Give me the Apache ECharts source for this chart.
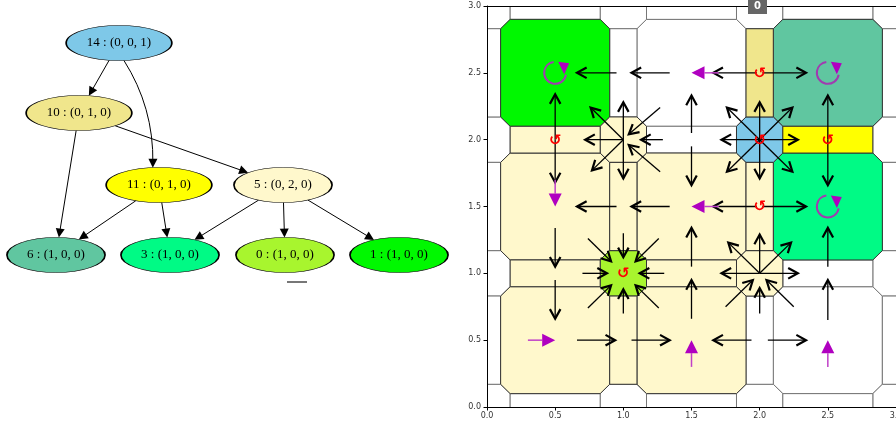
<!DOCTYPE html>
<html>
<head>
<meta charset="utf-8">
<script src="https://cdn.jsdelivr.net/npm/echarts@6/dist/echarts.min.js"></script>
<style>
  html, body { margin: 0; padding: 0; background: #fff; }
  #main { width: 896px; height: 426px; }
</style>
</head>
<body>
<div id="main"></div>
<script>
// ---- left: abstraction graph ----
const nodeIds = [14, 10, 11, 5, 6, 3, 0, 1]
const nodeStates = ['(0, 0, 1)', '(0, 1, 0)', '(0, 1, 0)', '(0, 2, 0)', '(1, 0, 0)', '(1, 0, 0)', '(1, 0, 0)', '(1, 0, 0)']
const nodeColors = ['#7ec8e8', '#f0e68c', '#ffff00', '#fff8cc', '#60c6a0', '#00fa85', '#a8f52e', '#00f800']
// graphviz layout (points, y down)
const nodeX = [119, 79, 159, 283, 56, 170, 285, 399]
const nodeY = [43, 113, 185, 185, 255, 255, 255, 255]
const edges = [[14, 10], [14, 11], [10, 6], [10, 5], [11, 6], [11, 3], [5, 3], [5, 0], [5, 1]]
const edgeBend = [0, 0.15, 0, 0, 0, 0, 0, 0, 0]

// ---- right: partition of the state space ----
const cellCenters = [0.5, 1.5, 2.5]
const latticePts = [0, 1, 2, 3]
// coloured regions and the graph node they belong to
const regionCenters = [[0.5, 2.5], [2.5, 2.5], [0.5, 1.5], [1.5, 1.5], [2.5, 1.5], [0.5, 0.5], [1.5, 0.5],
  [0.5, 2], [2, 2.5], [2.5, 2], [1, 1.5], [2, 1.5], [0.5, 1], [1.5, 1], [1, 0.5],
  [1, 2], [2, 2], [1, 1], [2, 1]]
const regionNodes = [1, 6, 5, 5, 3, 5, 5, 5, 10, 11, 5, 5, 5, 5, 5, 5, 14, 0, 5]

// transitions [x0, y0, x1, y1]
const blackArrows = [
  [0.95, 2.5, 0.66, 2.5], [1.34, 2.5, 1.06, 2.5], [1.98, 2.5, 1.66, 2.5], [2.02, 2.5, 2.34, 2.5],
  [0.95, 1.5, 0.66, 1.5], [1.34, 1.5, 1.06, 1.5], [1.98, 1.5, 1.66, 1.5], [2.02, 1.5, 2.34, 1.5],
  [0.66, 0.5, 0.94, 0.5], [1.06, 0.5, 1.34, 0.5], [1.94, 0.5, 1.66, 0.5], [2.06, 0.5, 2.34, 0.5],
  [0.5, 2.0, 0.5, 2.34], [0.5, 2.0, 0.5, 1.68], [0.5, 1.34, 0.5, 1.05], [0.5, 0.95, 0.5, 0.66],
  [1.5, 2.05, 1.5, 2.33], [1.5, 1.95, 1.5, 1.66], [1.5, 1.05, 1.5, 1.34], [1.5, 0.66, 1.5, 0.95],
  [2.5, 2.0, 2.5, 2.33], [2.5, 2.0, 2.5, 1.66], [2.5, 1.05, 2.5, 1.34], [2.5, 0.65, 2.5, 0.95],
  [1, 2, 1, 2.28], [1, 2, 0.76, 2.24], [1, 2, 0.72, 2], [1, 2, 0.77, 1.77], [1, 2, 1, 1.71],
  [1.27, 2.24, 1.04, 2.04], [1.29, 2, 1.13, 2], [1.27, 1.76, 1.04, 1.96],
  [2, 2, 2, 2.28], [2, 2, 1.76, 2.24], [2, 2, 2.24, 2.24], [2, 2, 1.72, 2], [2, 2, 2.28, 2],
  [2, 2, 1.76, 1.76], [2, 2, 2, 1.71], [2, 2, 2.24, 1.76],
  [1, 1.3, 1, 1.12], [1, 0.7, 1, 0.88], [0.7, 1, 0.88, 1], [1.3, 1, 1.12, 1],
  [0.74, 1.26, 0.91, 1.09], [1.26, 1.26, 1.09, 1.09], [0.74, 0.74, 0.91, 0.91], [1.26, 0.74, 1.09, 0.91],
  [2, 1, 2, 1.29], [2, 1, 1.77, 1.23], [2, 1, 2.23, 1.23], [2, 1, 1.72, 1], [2, 1, 2.28, 1],
  [2, 0.7, 2, 0.89], [1.75, 0.75, 1.95, 0.95], [2.25, 0.75, 2.05, 0.95]
]
// chosen actions
const policyArrows = [[0.5, 1.7, 0.5, 1.5], [1.7, 2.5, 1.5, 2.5], [1.7, 1.5, 1.5, 1.5],
  [0.3, 0.5, 0.5, 0.5], [1.5, 0.3, 1.5, 0.5], [2.5, 0.3, 2.5, 0.5]]
const policyLoops = [[0.5, 2.5], [2.5, 2.5], [2.5, 1.5]]
const selfLoops = [[0.5, 2], [2, 2.5], [2, 2], [2.5, 2], [2, 1.5], [1, 1]]

const tickLabels = ['0.0', '0.5', '1.0', '1.5', '2.0', '2.5', '3.0']

// build the tessellation: cells, doors, junctions
function octagon(cx, cy, hx, hy, c) {
  return [[cx - hx + c, cy - hy], [cx + hx - c, cy - hy], [cx + hx, cy - hy + c], [cx + hx, cy + hy - c],
    [cx + hx - c, cy + hy], [cx - hx + c, cy + hy], [cx - hx, cy + hy - c], [cx - hx, cy - hy + c]]
}
const regions = []
cellCenters.forEach(x => cellCenters.forEach(y => regions.push({ c: [x, y], poly: octagon(x, y, 0.4, 0.4, 0.07) })))
latticePts.forEach(x => latticePts.forEach(y => regions.push({ c: [x, y], poly: octagon(x, y, 0.17, 0.17, 0.07) })))
cellCenters.forEach(x => latticePts.forEach(y => regions.push({ c: [x, y], poly: octagon(x, y, 0.33, 0.1, 0) })))
latticePts.forEach(x => cellCenters.forEach(y => regions.push({ c: [x, y], poly: octagon(x, y, 0.1, 0.33, 0) })))
regions.forEach(r => {
  const k = regionCenters.findIndex(p => p[0] === r.c[0] && p[1] === r.c[1])
  r.fill = k < 0 ? null : nodeColors[nodeIds.indexOf(regionNodes[k])]
})
regions.sort((a, b) => (a.fill ? 1 : 0) - (b.fill ? 1 : 0))

// graph geometry
const nodeW = nodeIds.map((id, i) => (id + ' : ' + nodeStates[i]).length * 7.55)
const nodeH = 35
function ellipseCut(i, j) {
  const dx = nodeX[j] - nodeX[i], dy = nodeY[j] - nodeY[i]
  const t = 1 / Math.sqrt((dx / (nodeW[i] / 2)) ** 2 + (dy / (nodeH / 2)) ** 2)
  return [nodeX[i] + dx * t, nodeY[i] + dy * t, dx, dy]
}
const edgeData = edges.map((e, k) => {
  const a = nodeIds.indexOf(e[0]), b = nodeIds.indexOf(e[1])
  const s = ellipseCut(a, b), t = ellipseCut(b, a)
  const len = Math.hypot(s[2], s[3])
  const back = 4.5
  return {
    coords: [[s[0], s[1]], [t[0] - s[2] / len * back, t[1] - s[3] / len * back]],
    lineStyle: { curveness: edgeBend[k] }
  }
})

const chart = echarts.init(document.getElementById('main'))

const plotAxis = {
  gridIndex: 0, type: 'value', min: 0, max: 3, interval: 0.5, z: 5,
  axisLine: { onZero: false, lineStyle: { color: '#000', width: 1 } },
  axisTick: { length: 3.5, lineStyle: { color: '#000' } },
  axisLabel: { fontSize: 8, color: '#333', fontFamily: 'DejaVu Sans', formatter: v => tickLabels[Math.round(v * 2)] },
  splitLine: { show: false }
}
const frameAxis = {
  gridIndex: 0, type: 'value', min: 0, max: 3, z: 5,
  axisLine: { onZero: false, lineStyle: { color: '#000', width: 1 } },
  axisTick: { show: false }, axisLabel: { show: false }, splitLine: { show: false }
}

const option = {
  animation: false,
  grid: [
    { left: 487, top: 6, width: 409, height: 401, outerBoundsMode: 'none', containLabel: false },
    { left: 0, top: 0, width: 450, height: 426, outerBoundsMode: 'none', containLabel: false }
  ],
  xAxis: [
    Object.assign({}, plotAxis, { position: 'bottom', axisLabel: Object.assign({}, plotAxis.axisLabel, { margin: 5 }) }),
    Object.assign({}, frameAxis, { position: 'top' }),
    { gridIndex: 1, type: 'value', min: 0, max: 450, show: false }
  ],
  yAxis: [
    Object.assign({}, plotAxis, { position: 'left', axisLabel: Object.assign({}, plotAxis.axisLabel, { margin: 6 }) }),
    Object.assign({}, frameAxis, { position: 'right' }),
    { gridIndex: 1, type: 'value', min: 0, max: 426, inverse: true, show: false }
  ],
  series: [
    {
      type: 'custom',
      xAxisIndex: 0, yAxisIndex: 0,
      clip: true,
      data: regions.map((r, i) => [r.c[0], r.c[1], i]),
      renderItem(params, api) {
        const r = regions[api.value(2)]
        return {
          type: 'polygon',
          shape: { points: r.poly.map(p => api.coord(p)) },
          style: { fill: r.fill || '#fff', stroke: r.fill ? '#333' : '#777', lineWidth: 1 }
        }
      }
    },
    {
      type: 'custom',
      xAxisIndex: 0, yAxisIndex: 0,
      data: blackArrows,
      renderItem(params, api) {
        const p0 = api.coord([api.value(0), api.value(1)])
        const p1 = api.coord([api.value(2), api.value(3)])
        const a = Math.atan2(p1[1] - p0[1], p1[0] - p0[0])
        const L = 11, W = 0.5
        const h1 = [p1[0] - L * Math.cos(a - W), p1[1] - L * Math.sin(a - W)]
        const h2 = [p1[0] - L * Math.cos(a + W), p1[1] - L * Math.sin(a + W)]
        return {
          type: 'group',
          children: [
            { type: 'line', shape: { x1: p0[0], y1: p0[1], x2: p1[0], y2: p1[1] }, style: { stroke: '#000', lineWidth: 1.3 } },
            { type: 'polyline', shape: { points: [h1, p1, h2] }, style: { stroke: '#000', lineWidth: 2.2, fill: null } }
          ]
        }
      }
    },
    {
      type: 'custom',
      xAxisIndex: 0, yAxisIndex: 0,
      data: policyArrows,
      renderItem(params, api) {
        const p0 = api.coord([api.value(0), api.value(1)])
        const p1 = api.coord([api.value(2), api.value(3)])
        const a = Math.atan2(p1[1] - p0[1], p1[0] - p0[0])
        const L = 13, hw = 6.5
        const bx = p1[0] - L * Math.cos(a), by = p1[1] - L * Math.sin(a)
        const nx = -Math.sin(a) * hw, ny = Math.cos(a) * hw
        return {
          type: 'group',
          children: [
            { type: 'line', shape: { x1: p0[0], y1: p0[1], x2: bx, y2: by }, style: { stroke: '#c040c8', lineWidth: 1.5 } },
            { type: 'polygon', shape: { points: [[bx + nx, by + ny], p1, [bx - nx, by - ny]] }, style: { fill: '#b000c0' } }
          ]
        }
      }
    },
    {
      type: 'custom',
      xAxisIndex: 0, yAxisIndex: 0,
      data: policyLoops,
      renderItem(params, api) {
        const c = api.coord([api.value(0), api.value(1)])
        const r = 11
        return {
          type: 'group',
          children: [
            { type: 'arc', shape: { cx: c[0], cy: c[1], r, startAngle: 10 * Math.PI / 180, endAngle: 262 * Math.PI / 180, clockwise: true },
              style: { stroke: '#a03cb0', lineWidth: 2, fill: null } },
            { type: 'polygon', shape: { points: [[c[0] + 3, c[1] - 11], [c[0] + 14, c[1] - 9.5], [c[0] + 9, c[1] + 1.5]] },
              style: { fill: '#b000c0' } }
          ]
        }
      }
    },
    {
      type: 'custom',
      xAxisIndex: 0, yAxisIndex: 0,
      data: selfLoops,
      renderItem(params, api) {
        const c = api.coord([api.value(0), api.value(1)])
        return {
          type: 'text',
          style: { text: '↺', x: c[0], y: c[1] + 1, fill: '#ff0000', font: 'bold 15px "DejaVu Sans"', align: 'center', verticalAlign: 'middle' }
        }
      }
    },
    {
      type: 'lines',
      coordinateSystem: 'cartesian2d',
      xAxisIndex: 2, yAxisIndex: 2,
      z: 1,
      symbol: ['none', 'triangle'],
      symbolSize: [0, 9],
      lineStyle: { color: '#000', width: 1, opacity: 1 },
      itemStyle: { color: '#000' },
      data: edgeData
    },
    {
      type: 'scatter',
      xAxisIndex: 2, yAxisIndex: 2,
      z: 2,
      symbol: 'path://M1,0A1,1,0,1,1,-1,0A1,1,0,1,1,1,0Z',
      data: nodeIds.map((id, i) => ({
        value: [nodeX[i], nodeY[i]],
        symbolSize: [nodeW[i], nodeH],
        itemStyle: { color: nodeColors[i], borderColor: '#000', borderWidth: 1, opacity: 1 },
        label: {
          show: true, position: 'inside', formatter: id + ' : ' + nodeStates[i],
          color: '#000', fontFamily: 'Liberation Serif', fontSize: 13
        }
      }))
    }
  ],
  graphic: [
    { type: 'rect', left: 287, top: 281, shape: { width: 20, height: 2 }, style: { fill: '#777' } },
    { type: 'rect', left: 748, top: 0, shape: { width: 19, height: 14 }, style: { fill: '#666' }, z: 20 },
    { type: 'text', left: 754, top: 1, style: { text: '0', fill: '#fff', font: 'bold 10px "DejaVu Sans"' }, z: 21 }
  ]
}
chart.setOption(option)
</script>
</body>
</html>
